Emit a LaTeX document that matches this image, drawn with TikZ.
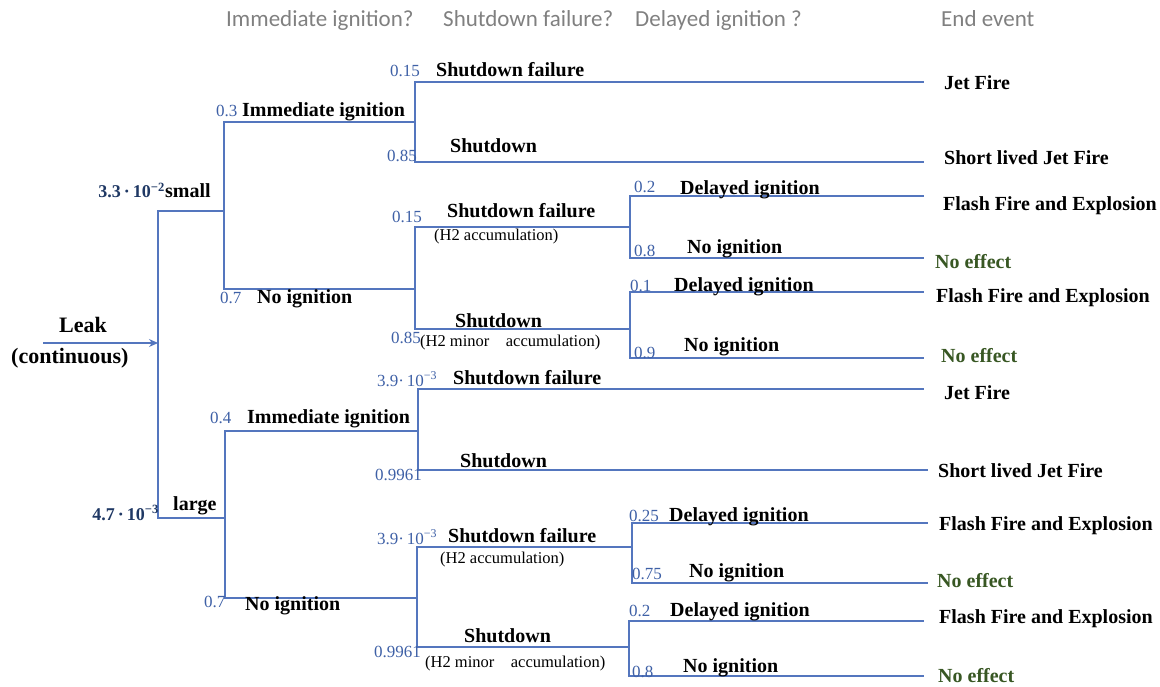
\documentclass[tikz,border=0pt]{standalone}
\usepackage{fontspec}
\setmainfont{Liberation Serif}
\newfontfamily\hdrfont{Carlito}
\usetikzlibrary{arrows.meta}

\definecolor{lineblue}{RGB}{84,118,190}
\definecolor{probblue}{RGB}{62,96,166}
\definecolor{navy}{RGB}{31,56,100}
\definecolor{effgreen}{RGB}{56,87,35}
\definecolor{hdrgray}{RGB}{128,128,128}

\tikzset{
  branch/.style={draw=lineblue, line width=1.1pt},
  hdr/.style={anchor=base west, inner sep=0pt, text=hdrgray,
    font=\hdrfont\fontsize{23}{25}\selectfont},
  lbl/.style={anchor=base west, inner sep=0pt,
    font=\fontsize{20}{22}\selectfont\bfseries},
  endlbl/.style={lbl},
  noeff/.style={lbl, text=effgreen},
  prob/.style={anchor=base west, inner sep=0pt, text=probblue,
    font=\fontsize{17}{19}\selectfont},
  freq/.style={anchor=base east, inner sep=0pt, text=navy,
    font=\fontsize{18}{20}\selectfont\bfseries},
  note/.style={anchor=base west, inner sep=0pt,
    font=\fontsize{16.5}{18}\selectfont},
  leaklbl/.style={anchor=base west, inner sep=0pt,
    font=\fontsize{22}{24}\selectfont\bfseries},
}

\begin{document}
\begin{tikzpicture}[x=1pt, y=-1pt]
\useasboundingbox (0,0) rectangle (1160,687);

% column headings
\node[hdr] (h1) at (226,27) {Immediate ignition?};
\node[hdr] (h2) at (443,27) {Shutdown failure?};
\node[hdr] (h3) at (635,27) {Delayed ignition ?};
\node[hdr] (h4) at (941,27) {End event};

% branch points
\coordinate (leakstart) at (43,343);
\coordinate (root) at (158,343);
\coordinate (jS) at (224,211);
\coordinate (jA) at (415,122);
\coordinate (jB) at (415,289);
\coordinate (jC) at (630,227);
\coordinate (jD) at (630,329);
\coordinate (jL) at (225,518);
\coordinate (jE) at (418,431);
\coordinate (jF) at (417,598);
\coordinate (jG) at (632,547);
\coordinate (jH) at (629,647);

% leaf ends
\coordinate (e1) at (924,82);
\coordinate (e2) at (924,162);
\coordinate (e3) at (924,196);
\coordinate (e4) at (924,258);
\coordinate (e5) at (924,292);
\coordinate (e6) at (924,358);
\coordinate (e7) at (924,389);
\coordinate (e8) at (928,470);
\coordinate (e9) at (928,523);
\coordinate (e10) at (928,583);
\coordinate (e11) at (924,621);
\coordinate (e12) at (924,676);

% tree
\draw[branch, -{Stealth[length=9pt,width=8pt]}] (leakstart) -- (root);
\draw[branch] (root) |- (jS);
\draw[branch] (root) |- (jL);
\draw[branch] (jS) |- (jA);
\draw[branch] (jS) |- (jB);
\draw[branch] (jA) |- (e1);
\draw[branch] (jA) |- (e2);
\draw[branch] (jB) |- (jC);
\draw[branch] (jB) |- (jD);
\draw[branch] (jC) |- (e3);
\draw[branch] (jC) |- (e4);
\draw[branch] (jD) |- (e5);
\draw[branch] (jD) |- (e6);
\draw[branch] (jL) |- (jE);
\draw[branch] (jL) |- (jF);
\draw[branch] (jE) |- (e7);
\draw[branch] (jE) |- (e8);
\draw[branch] (jF) |- (jG);
\draw[branch] (jF) |- (jH);
\draw[branch] (jG) |- (e9);
\draw[branch] (jG) |- (e10);
\draw[branch] (jH) |- (e11);
\draw[branch] (jH) |- (e12);

% initiating event
\node[leaklbl] (leak) at (59,332) {Leak};
\node[leaklbl] (cont) at (11,363) {(continuous)};

% leak size
\node[freq] (fS) at (165,198) {3.3\,·\,10\textsuperscript{−2}};
\node[lbl] (small) at (165,198) {small};
\node[freq] (fL) at (159,520) {4.7\,·\,10\textsuperscript{−3}};
\node[lbl] (large) at (173,510) {large};

% immediate ignition
\node[prob] (p1) at (216,117) {0.3};
\node[lbl] (l1) at (242,117) {Immediate ignition};
\node[prob] (p2) at (220,304) {0.7};
\node[lbl] (l2) at (257,304) {No ignition};
\node[prob] (p3) at (210,423) {0.4};
\node[lbl] (l3) at (247,423) {Immediate ignition};
\node[prob] (p4) at (204,607) {0.7};
\node[lbl] (l4) at (245,610) {No ignition};

% shutdown failure
\node[prob] (p5) at (390,77) {0.15};
\node[lbl] (l5) at (436,77) {Shutdown failure};
\node[prob] (p6) at (387,162) {0.85};
\node[lbl] (l6) at (450,153) {Shutdown};
\node[prob] (p7) at (392,223) {0.15};
\node[lbl] (l7) at (447,218) {Shutdown failure};
\node[note] (n7) at (434,241) {(H2 accumulation)};
\node[prob] (p8) at (391,343) {0.85};
\node[lbl] (l8) at (455,327) {Shutdown};
\node[note] (n8) at (420,346) {(H2 minor\hspace{1em}accumulation)};
\node[prob] (p9) at (377,386) {3.9·\,10\textsuperscript{−3}};
\node[lbl] (l9) at (453,384) {Shutdown failure};
\node[prob] (p10) at (375,480) {0.9961};
\node[lbl] (l10) at (460,467) {Shutdown};
\node[prob] (p11) at (377,544) {3.9·\,10\textsuperscript{−3}};
\node[lbl] (l11) at (448,542) {Shutdown failure};
\node[note] (n11) at (440,563) {(H2 accumulation)};
\node[prob] (p12) at (374,657) {0.9961};
\node[lbl] (l12) at (464,642) {Shutdown};
\node[note] (n12) at (425,667) {(H2 minor\hspace{1em}accumulation)};

% delayed ignition
\node[prob] (p13) at (634,193) {0.2};
\node[lbl] (l13) at (680,195) {Delayed ignition};
\node[prob] (p14) at (634,257) {0.8};
\node[lbl] (l14) at (687,254) {No ignition};
\node[prob] (p15) at (630,291) {0.1};
\node[lbl] (l15) at (674,292) {Delayed ignition};
\node[prob] (p16) at (634,358) {0.9};
\node[lbl] (l16) at (684,352) {No ignition};
\node[prob] (p17) at (629,521) {0.25};
\node[lbl] (l17) at (669,521) {Delayed ignition};
\node[prob] (p18) at (632,579) {0.75};
\node[lbl] (l18) at (689,577) {No ignition};
\node[prob] (p19) at (629,616) {0.2};
\node[lbl] (l19) at (670,616) {Delayed ignition};
\node[prob] (p20) at (632,677) {0.8};
\node[lbl] (l20) at (683,672) {No ignition};

% end events
\node[endlbl] (o1) at (944,90) {Jet Fire};
\node[endlbl] (o2) at (944,165) {Short lived Jet Fire};
\node[endlbl] (o3) at (943,211) {Flash Fire and Explosion};
\node[noeff] (o4) at (935,269) {No effect};
\node[endlbl] (o5) at (936,302) {Flash Fire and Explosion};
\node[noeff] (o6) at (941,362) {No effect};
\node[endlbl] (o7) at (944,399) {Jet Fire};
\node[endlbl] (o8) at (938,477) {Short lived Jet Fire};
\node[endlbl] (o9) at (939,530) {Flash Fire and Explosion};
\node[noeff] (o10) at (937,587) {No effect};
\node[endlbl] (o11) at (939,623) {Flash Fire and Explosion};
\node[noeff] (o12) at (938,682) {No effect};
\end{tikzpicture}
\end{document}
